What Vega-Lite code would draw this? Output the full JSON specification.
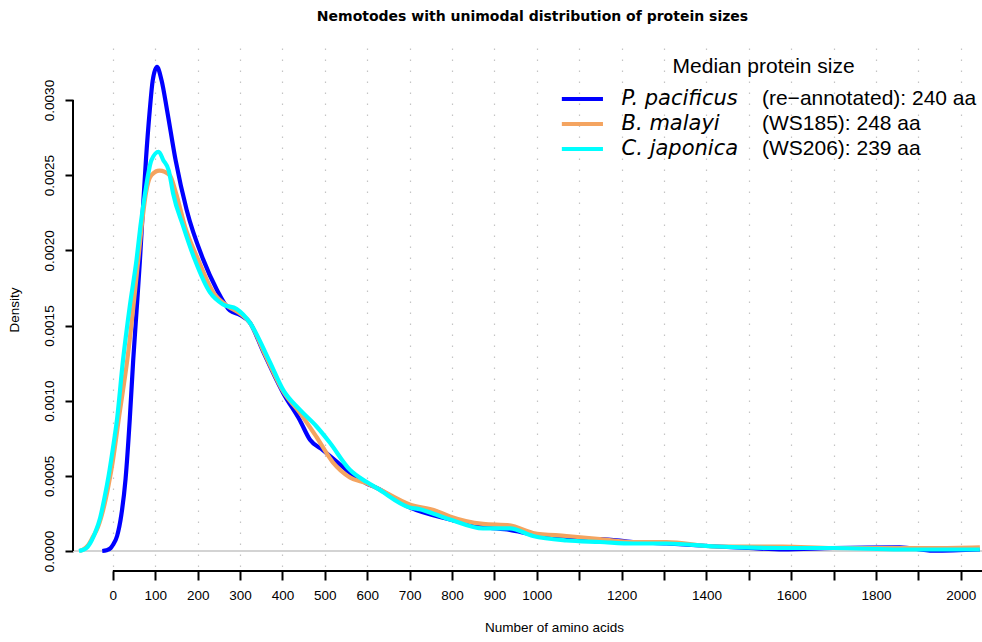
{
  "$schema": "https://vega.github.io/schema/vega-lite/v6.json",
  "width": 909,
  "height": 523,
  "autosize": {"type": "none"},
  "padding": {"left": 73, "top": 48, "right": 0, "bottom": 71},
  "title": {"text": "Nemotodes with unimodal distribution of protein sizes", "fontSize": 14, "fontWeight": "bold", "font": "DejaVu Sans", "anchor": "middle", "frame": "group", "baseline": "bottom", "offset": 10, "dx": 5, "color": "black"},
  "config": {"font": "Liberation Sans", "view": {"stroke": null}},
  "datasets": {
    "curves": [
      {"species": "P. pacificus", "aa": -25, "density": 0},
      {"species": "P. pacificus", "aa": -15, "density": 0.000005},
      {"species": "P. pacificus", "aa": -5, "density": 0.00002},
      {"species": "P. pacificus", "aa": 0, "density": 0.00004},
      {"species": "P. pacificus", "aa": 10, "density": 0.0001},
      {"species": "P. pacificus", "aa": 20, "density": 0.00024},
      {"species": "P. pacificus", "aa": 30, "density": 0.00048},
      {"species": "P. pacificus", "aa": 40, "density": 0.00088},
      {"species": "P. pacificus", "aa": 48, "density": 0.00127},
      {"species": "P. pacificus", "aa": 56, "density": 0.0016},
      {"species": "P. pacificus", "aa": 64, "density": 0.00194},
      {"species": "P. pacificus", "aa": 71, "density": 0.00228},
      {"species": "P. pacificus", "aa": 78, "density": 0.0026},
      {"species": "P. pacificus", "aa": 87, "density": 0.00293},
      {"species": "P. pacificus", "aa": 94, "density": 0.00313},
      {"species": "P. pacificus", "aa": 104, "density": 0.00322},
      {"species": "P. pacificus", "aa": 115, "density": 0.00313},
      {"species": "P. pacificus", "aa": 128, "density": 0.00293},
      {"species": "P. pacificus", "aa": 148, "density": 0.0026},
      {"species": "P. pacificus", "aa": 174, "density": 0.00227},
      {"species": "P. pacificus", "aa": 213, "density": 0.00194},
      {"species": "P. pacificus", "aa": 245, "density": 0.00174},
      {"species": "P. pacificus", "aa": 276, "density": 0.0016},
      {"species": "P. pacificus", "aa": 300, "density": 0.00157},
      {"species": "P. pacificus", "aa": 323, "density": 0.00152},
      {"species": "P. pacificus", "aa": 354, "density": 0.00133},
      {"species": "P. pacificus", "aa": 402, "density": 0.00105},
      {"species": "P. pacificus", "aa": 441, "density": 0.00087},
      {"species": "P. pacificus", "aa": 465, "density": 0.00074},
      {"species": "P. pacificus", "aa": 496, "density": 0.00067},
      {"species": "P. pacificus", "aa": 530, "density": 0.00059},
      {"species": "P. pacificus", "aa": 559, "density": 0.00052},
      {"species": "P. pacificus", "aa": 598, "density": 0.00045},
      {"species": "P. pacificus", "aa": 622, "density": 0.00042},
      {"species": "P. pacificus", "aa": 700, "density": 0.00029},
      {"species": "P. pacificus", "aa": 795, "density": 0.00021},
      {"species": "P. pacificus", "aa": 873, "density": 0.00016},
      {"species": "P. pacificus", "aa": 936, "density": 0.00014},
      {"species": "P. pacificus", "aa": 991, "density": 0.00011},
      {"species": "P. pacificus", "aa": 1070, "density": 0.00008},
      {"species": "P. pacificus", "aa": 1149, "density": 0.00008},
      {"species": "P. pacificus", "aa": 1227, "density": 0.00006},
      {"species": "P. pacificus", "aa": 1306, "density": 0.00005},
      {"species": "P. pacificus", "aa": 1424, "density": 0.00003},
      {"species": "P. pacificus", "aa": 1500, "density": 0.00002},
      {"species": "P. pacificus", "aa": 1581, "density": 0.00001},
      {"species": "P. pacificus", "aa": 1699, "density": 0.00002},
      {"species": "P. pacificus", "aa": 1856, "density": 0.000025},
      {"species": "P. pacificus", "aa": 1935, "density": 0.000002},
      {"species": "P. pacificus", "aa": 2045, "density": 0.00001},
      {"species": "B. malayi", "aa": -78, "density": 0},
      {"species": "B. malayi", "aa": -70, "density": 0.00001},
      {"species": "B. malayi", "aa": -58, "density": 0.00004},
      {"species": "B. malayi", "aa": -46, "density": 0.0001},
      {"species": "B. malayi", "aa": -38, "density": 0.00014},
      {"species": "B. malayi", "aa": -25, "density": 0.00025},
      {"species": "B. malayi", "aa": -10, "density": 0.00044},
      {"species": "B. malayi", "aa": 0, "density": 0.0006},
      {"species": "B. malayi", "aa": 15, "density": 0.0009},
      {"species": "B. malayi", "aa": 34, "density": 0.00127},
      {"species": "B. malayi", "aa": 60, "density": 0.00194},
      {"species": "B. malayi", "aa": 68, "density": 0.00216},
      {"species": "B. malayi", "aa": 78, "density": 0.00238},
      {"species": "B. malayi", "aa": 91, "density": 0.0025},
      {"species": "B. malayi", "aa": 110, "density": 0.00253},
      {"species": "B. malayi", "aa": 134, "density": 0.0025},
      {"species": "B. malayi", "aa": 149, "density": 0.00238},
      {"species": "B. malayi", "aa": 170, "density": 0.00216},
      {"species": "B. malayi", "aa": 201, "density": 0.00194},
      {"species": "B. malayi", "aa": 237, "density": 0.00172},
      {"species": "B. malayi", "aa": 270, "density": 0.00163},
      {"species": "B. malayi", "aa": 300, "density": 0.00158},
      {"species": "B. malayi", "aa": 323, "density": 0.00152},
      {"species": "B. malayi", "aa": 360, "density": 0.0013},
      {"species": "B. malayi", "aa": 402, "density": 0.00106},
      {"species": "B. malayi", "aa": 441, "density": 0.00092},
      {"species": "B. malayi", "aa": 480, "density": 0.00076},
      {"species": "B. malayi", "aa": 519, "density": 0.00059},
      {"species": "B. malayi", "aa": 559, "density": 0.00049},
      {"species": "B. malayi", "aa": 598, "density": 0.00045},
      {"species": "B. malayi", "aa": 622, "density": 0.00042},
      {"species": "B. malayi", "aa": 700, "density": 0.00031},
      {"species": "B. malayi", "aa": 760, "density": 0.00027},
      {"species": "B. malayi", "aa": 795, "density": 0.00023},
      {"species": "B. malayi", "aa": 873, "density": 0.00018},
      {"species": "B. malayi", "aa": 936, "density": 0.00017},
      {"species": "B. malayi", "aa": 991, "density": 0.00012},
      {"species": "B. malayi", "aa": 1070, "density": 0.0001},
      {"species": "B. malayi", "aa": 1149, "density": 0.00008},
      {"species": "B. malayi", "aa": 1227, "density": 0.00006},
      {"species": "B. malayi", "aa": 1306, "density": 0.00006},
      {"species": "B. malayi", "aa": 1424, "density": 0.00003},
      {"species": "B. malayi", "aa": 1581, "density": 0.00003},
      {"species": "B. malayi", "aa": 1699, "density": 0.00002},
      {"species": "B. malayi", "aa": 1856, "density": 0.00002},
      {"species": "B. malayi", "aa": 1935, "density": 0.00002},
      {"species": "B. malayi", "aa": 2045, "density": 0.000025},
      {"species": "C. japonica", "aa": -80, "density": 0},
      {"species": "C. japonica", "aa": -70, "density": 0.000008},
      {"species": "C. japonica", "aa": -62, "density": 0.00002},
      {"species": "C. japonica", "aa": -50, "density": 0.00007},
      {"species": "C. japonica", "aa": -42, "density": 0.00012},
      {"species": "C. japonica", "aa": -30, "density": 0.00022},
      {"species": "C. japonica", "aa": -20, "density": 0.00035},
      {"species": "C. japonica", "aa": -10, "density": 0.0005},
      {"species": "C. japonica", "aa": 0, "density": 0.00068},
      {"species": "C. japonica", "aa": 10, "density": 0.00088},
      {"species": "C. japonica", "aa": 24, "density": 0.00127},
      {"species": "C. japonica", "aa": 40, "density": 0.00163},
      {"species": "C. japonica", "aa": 56, "density": 0.00194},
      {"species": "C. japonica", "aa": 65, "density": 0.00216},
      {"species": "C. japonica", "aa": 76, "density": 0.00238},
      {"species": "C. japonica", "aa": 91, "density": 0.0026},
      {"species": "C. japonica", "aa": 108, "density": 0.002656},
      {"species": "C. japonica", "aa": 119, "density": 0.0026},
      {"species": "C. japonica", "aa": 132, "density": 0.00253},
      {"species": "C. japonica", "aa": 142, "density": 0.00238},
      {"species": "C. japonica", "aa": 166, "density": 0.00216},
      {"species": "C. japonica", "aa": 193, "density": 0.00194},
      {"species": "C. japonica", "aa": 229, "density": 0.00172},
      {"species": "C. japonica", "aa": 260, "density": 0.00164},
      {"species": "C. japonica", "aa": 292, "density": 0.00161},
      {"species": "C. japonica", "aa": 323, "density": 0.00152},
      {"species": "C. japonica", "aa": 370, "density": 0.00126},
      {"species": "C. japonica", "aa": 402, "density": 0.00107},
      {"species": "C. japonica", "aa": 441, "density": 0.00094},
      {"species": "C. japonica", "aa": 480, "density": 0.00083},
      {"species": "C. japonica", "aa": 512, "density": 0.00072},
      {"species": "C. japonica", "aa": 559, "density": 0.00054},
      {"species": "C. japonica", "aa": 598, "density": 0.00046},
      {"species": "C. japonica", "aa": 622, "density": 0.00042},
      {"species": "C. japonica", "aa": 700, "density": 0.00029},
      {"species": "C. japonica", "aa": 720, "density": 0.00028},
      {"species": "C. japonica", "aa": 795, "density": 0.00021},
      {"species": "C. japonica", "aa": 873, "density": 0.00015},
      {"species": "C. japonica", "aa": 936, "density": 0.00015},
      {"species": "C. japonica", "aa": 991, "density": 0.0001},
      {"species": "C. japonica", "aa": 1070, "density": 0.00007},
      {"species": "C. japonica", "aa": 1149, "density": 0.00006},
      {"species": "C. japonica", "aa": 1227, "density": 0.00005},
      {"species": "C. japonica", "aa": 1306, "density": 0.00005},
      {"species": "C. japonica", "aa": 1424, "density": 0.00003},
      {"species": "C. japonica", "aa": 1581, "density": 0.00002},
      {"species": "C. japonica", "aa": 1699, "density": 0.00002},
      {"species": "C. japonica", "aa": 1856, "density": 0.00001},
      {"species": "C. japonica", "aa": 1935, "density": 0.00001},
      {"species": "C. japonica", "aa": 2045, "density": 0.00001}
    ],
    "legend": [
      {"species": "P. pacificus", "row": 1, "rest": "(re−annotated): 240 aa"},
      {"species": "B. malayi", "row": 2, "rest": "(WS185): 248 aa"},
      {"species": "C. japonica", "row": 3, "rest": "(WS206): 239 aa"}
    ]
  },
  "layer": [
    {
      "layer": [
        {
          "data": {"name": "curves"},
          "mark": {"type": "rule", "color": "#d3d3d3", "strokeWidth": 2},
          "encoding": {"y": {"datum": 0}}
        },
        {
          "data": {"name": "curves"},
          "mark": {"type": "line", "interpolate": "monotone", "strokeWidth": 4.2, "clip": true},
          "encoding": {
            "x": {
              "field": "aa", "type": "quantitative",
              "scale": {"domain": [-94, 2050], "nice": false, "zero": false},
              "axis": {
                "values": [0, 100, 200, 300, 400, 500, 600, 700, 800, 900, 1000, 1100, 1200, 1300, 1400, 1500, 1600, 1700, 1800, 1900, 2000],
                "format": "d",
                "labelExpr": "datum.value > 1000 && datum.value % 200 != 0 ? '' : datum.label",
                "domain": false,
                "grid": true, "gridDash": [1.5, 9.5], "gridColor": "#c4c4c4", "gridWidth": 1.2,
                "ticks": true, "tickColor": "black", "tickWidth": 2, "tickSize": 9,
                "labelFontSize": 13.5, "labelColor": "black", "labelPadding": 8, "labelFlush": false, "labelOverlap": false,
                "title": "Number of amino acids", "titleFontSize": 13.5, "titleFontWeight": "normal", "titleColor": "black",
                "titleX": 481, "titleY": 60, "titleBaseline": "alphabetic", "titleAlign": "center"
              }
            },
            "y": {
              "field": "density", "type": "quantitative",
              "scale": {"domain": [-0.000133, 0.003346], "nice": false, "zero": false},
              "axis": {
                "values": [0, 0.0005, 0.001, 0.0015, 0.002, 0.0025, 0.003],
                "format": ".4f",
                "domain": false, "grid": false,
                "ticks": true, "tickColor": "black", "tickWidth": 2, "tickSize": 8,
                "labelAngle": -90, "labelAlign": "center", "labelBaseline": "alphabetic", "labelPadding": 12,
                "labelFontSize": 13.5, "labelColor": "black", "labelOverlap": false,
                "title": "Density", "titleFontSize": 13.5, "titleFontWeight": "normal", "titleColor": "black",
                "titleX": -55, "titleBaseline": "alphabetic", "titleAngle": -90, "titleAlign": "center"
              }
            },
            "color": {
              "field": "species", "type": "nominal",
              "scale": {"domain": ["P. pacificus", "B. malayi", "C. japonica"], "range": ["#0000FF", "#F4A460", "#00FFFF"]},
              "legend": null
            }
          }
        },
        {
          "data": {"name": "curves"},
          "transform": [{"filter": "datum.species == 'P. pacificus' && datum.aa == 0"}],
          "mark": {"type": "rule", "color": "black", "strokeWidth": 2},
          "encoding": {"x": {"datum": 0}, "x2": {"datum": 2050}, "y": {"datum": -0.000133}}
        },
        {
          "data": {"name": "curves"},
          "transform": [{"filter": "datum.species == 'P. pacificus' && datum.aa == 0"}],
          "mark": {"type": "rule", "color": "black", "strokeWidth": 2},
          "encoding": {"x": {"datum": -94}, "y": {"datum": 0}, "y2": {"datum": 0.003}}
        },
        {
          "data": {"name": "legend"},
          "transform": [{"filter": "datum.row == 1"}],
          "mark": {"type": "text", "align": "center", "baseline": "middle", "fontSize": 21, "fontWeight": "normal", "color": "black"},
          "encoding": {"x": {"datum": 1535}, "y": {"datum": 0.00322}, "text": {"value": "Median protein size"}}
        }
      ]
    },
    {
      "data": {"name": "legend"},
      "layer": [
        {
          "mark": {"type": "rule", "strokeWidth": 4.2},
          "encoding": {
            "x": {"datum": 1059}, "x2": {"datum": 1156},
            "y": {"field": "row", "type": "quantitative", "scale": {"domain": [1, 3], "range": [51, 101]}, "axis": null},
            "color": {"field": "species", "type": "nominal", "legend": null}
          }
        },
        {
          "mark": {"type": "text", "align": "left", "baseline": "middle", "fontSize": 21, "font": "DejaVu Sans", "fontStyle": "italic", "fontWeight": "normal", "color": "black"},
          "encoding": {
            "x": {"datum": 1200},
            "y": {"field": "row", "type": "quantitative", "scale": {"domain": [1, 3], "range": [51, 101]}, "axis": null},
            "text": {"field": "species"}
          }
        },
        {
          "mark": {"type": "text", "align": "left", "baseline": "middle", "fontSize": 21, "fontWeight": "normal", "color": "black"},
          "encoding": {
            "x": {"datum": 1531},
            "y": {"field": "row", "type": "quantitative", "scale": {"domain": [1, 3], "range": [51, 101]}, "axis": null},
            "text": {"field": "rest"}
          }
        }
      ]
    }
  ],
  "resolve": {"scale": {"y": "independent"}}
}
